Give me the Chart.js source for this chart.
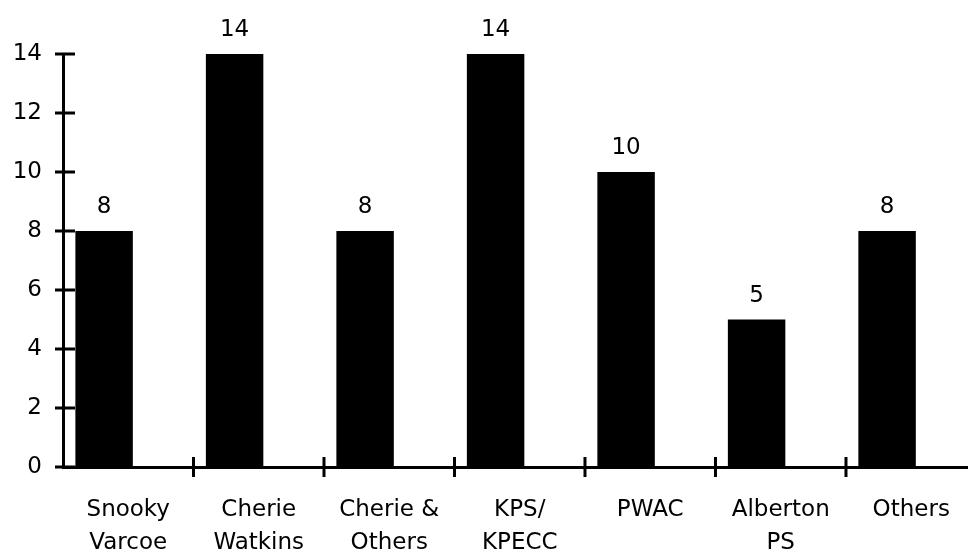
<!DOCTYPE html>
<html>
<head>
<meta charset="utf-8">
<script src="https://cdn.jsdelivr.net/npm/chart.js@4"></script>
<style>
  html, body { margin: 0; padding: 0; background: #fff; }
  #wrap { width: 968px; height: 551px; }
</style>
</head>
<body>
<div id="wrap"><canvas id="chart"></canvas></div>
<script>
// chart data
const categories = [
    ['Snooky', 'Varcoe'],
    ['Cherie', 'Watkins'],
    ['Cherie &', 'Others'],
    ['KPS/', 'KPECC'],
    'PWAC',
    ['Alberton', 'PS'],
    'Others',
];
const counts = [8, 14, 8, 14, 10, 5, 8];
const yTicks = [0, 2, 4, 6, 8, 10, 12, 14];

const FONT = { family: 'DejaVu Sans', size: 23, lineHeight: 1.43 };

/**
 * Crossing tick marks on both axes plus the value above each bar.
 */
const axisMarks = {
    id: 'axisMarks',
    afterDraw(chart) {
        const { ctx, scales: { x, y } } = chart;
        ctx.save();
        ctx.strokeStyle = '#000';
        ctx.lineWidth = 3;
        ctx.beginPath();
        y.ticks.forEach((t) => {
            const py = y.getPixelForValue(t.value);
            ctx.moveTo(y.right - 8, py);
            ctx.lineTo(y.right + 12, py);
        });
        // category boundaries sit half way between the bars
        for (let i = 0; i < categories.length; i++) {
            const px = x.getPixelForValue(i + 0.5);
            if (px > chart.width) break;
            ctx.moveTo(px, y.bottom - 10);
            ctx.lineTo(px, y.bottom + 10);
        }
        ctx.stroke();

        ctx.fillStyle = '#000';
        ctx.font = `${FONT.size}px "${FONT.family}"`;
        ctx.textAlign = 'center';
        ctx.textBaseline = 'alphabetic';
        chart.getDatasetMeta(0).data.forEach((bar, i) => {
            ctx.fillText(String(counts[i]), bar.x, bar.y - 18);
        });
        ctx.restore();
    }
};

new Chart(document.getElementById('chart'), {
    type: 'bar',
    data: {
        datasets: [{
            data: counts.map((v, i) => ({ x: i, y: v })),
            backgroundColor: '#000',
            borderWidth: 0,
            categoryPercentage: 0.74,
            barPercentage: 1.19,
        }, {
            // empty partner series keeps the bars left of the category centre
            data: counts.map((v, i) => ({ x: i, y: null })),
            backgroundColor: 'rgba(0,0,0,0)',
            categoryPercentage: 0.74,
            barPercentage: 1.19,
        }]
    },
    options: {
        responsive: true,
        maintainAspectRatio: false,
        animation: false,
        layout: { padding: { top: 54, right: 0, bottom: 0, left: 0 } },
        plugins: {
            legend: { display: false },
            tooltip: { enabled: false },
        },
        scales: {
            x: {
                type: 'linear',
                offset: false,
                min: -0.5,
                max: 6.435,
                grid: { display: false, drawTicks: false, offset: false },
                border: { display: true, color: '#000', width: 3 },
                afterBuildTicks: (s) => {
                    s.ticks = categories.map((_, i) => ({ value: i }));
                },
                afterFit: (s) => {
                    s.height = 84;
                    s.paddingLeft = 0;
                    s.paddingRight = 0;
                },
                ticks: {
                    color: '#000',
                    font: FONT,
                    padding: 27,
                    maxRotation: 0,
                    autoSkip: false,
                    callback: (v) => categories[v],
                },
            },
            y: {
                min: 0,
                max: 14,
                grid: { display: false, drawTicks: false },
                border: { display: true, color: '#000', width: 3 },
                afterBuildTicks: (s) => {
                    s.ticks = yTicks.map((v) => ({ value: v }));
                },
                afterFit: (s) => { s.width = 63; },
                ticks: {
                    color: '#000',
                    font: FONT,
                    padding: 21,
                },
            },
        },
    },
    plugins: [axisMarks],
});
</script>
</body>
</html>
